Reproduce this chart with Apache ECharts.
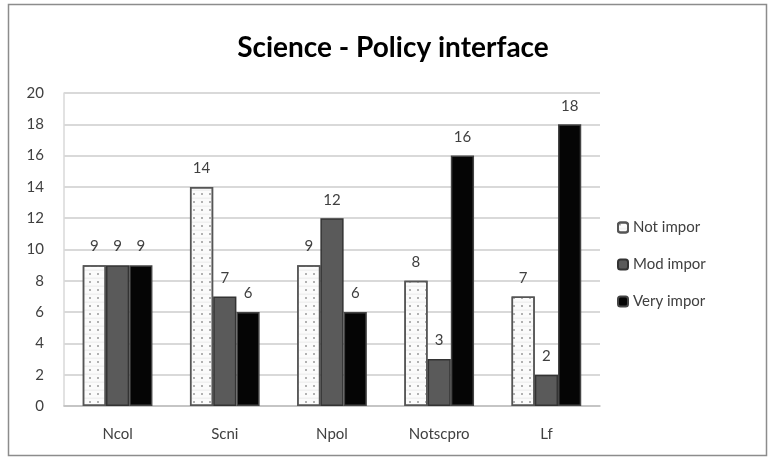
<!DOCTYPE html>
<html><head><meta charset="utf-8">
<script src="https://cdn.jsdelivr.net/npm/echarts@6/dist/echarts.min.js"></script>
<style>html,body{margin:0;padding:0;background:#fff}#c{width:768px;height:458px}</style>
</head><body><div id="c"></div>
<script>
const categories = ['Ncol','Scni','Npol','Notscpro','Lf'];
const notImpor = [9,14,9,8,7];
const modImpor = [9,7,12,3,2];
const veryImpor = [9,6,6,16,18];
const seriesNames = ['Not impor','Mod impor','Very impor'];

const chart = echarts.init(document.getElementById('c'));
const lbl = {show:true, position:'top', color:'#404040', fontFamily:'Lato', fontSize:15, distance:11};
chart.setOption({
  animation:false,
  backgroundColor:'#fff',
  graphic:[{type:'rect', shape:{x:8.5,y:4.5,width:758,height:451}, style:{fill:'none', stroke:'#8c8c8c', lineWidth:1.5}, z:-1}],
  title:{text:'Science - Policy interface', left:388, textAlign:'center', top:29,
    textStyle:{fontFamily:'Lato', fontWeight:'bold', fontSize:28, color:'#000'}},
  legend:{orient:'vertical', left:612, top:215, itemGap:22, itemWidth:10, itemHeight:10,
    textStyle:{fontFamily:'Lato', fontSize:15, color:'#404040'},
    data:seriesNames},
  grid:{left:64, right:168, top:93, bottom:52},
  xAxis:{type:'category', data:categories,
    axisLine:{lineStyle:{color:'#bfbfbf', width:1.5}}, axisTick:{show:false},
    axisLabel:{color:'#404040', fontFamily:'Lato', fontSize:15, margin:21}},
  yAxis:{type:'value', min:0, max:20, interval:2,
    axisLine:{show:true, lineStyle:{color:'#d9d9d9', width:1.5}},
    axisLabel:{color:'#404040', fontFamily:'Lato', fontSize:15, margin:20},
    splitLine:{lineStyle:{color:'#d9d9d9', width:2}}},
  series:[
    {name:seriesNames[0], type:'bar', data:notImpor, barGap:'0%', barCategoryGap:'35%',
     itemStyle:{color:'#fbfbfb', borderColor:'#555', borderWidth:1.5,
       decal:{symbol:'circle', symbolSize:0.5, color:'#999', dashArrayX:[[1,0],[4,4]], dashArrayY:[4,0], rotation:0}},
     label:lbl},
    {name:seriesNames[1], type:'bar', data:modImpor,
     itemStyle:{color:'#5a5a5a', borderColor:'#333', borderWidth:1.5}, label:lbl},
    {name:seriesNames[2], type:'bar', data:veryImpor,
     itemStyle:{color:'#050505', borderColor:'#444', borderWidth:1.5}, label:lbl}
  ]
});
</script></body></html>
